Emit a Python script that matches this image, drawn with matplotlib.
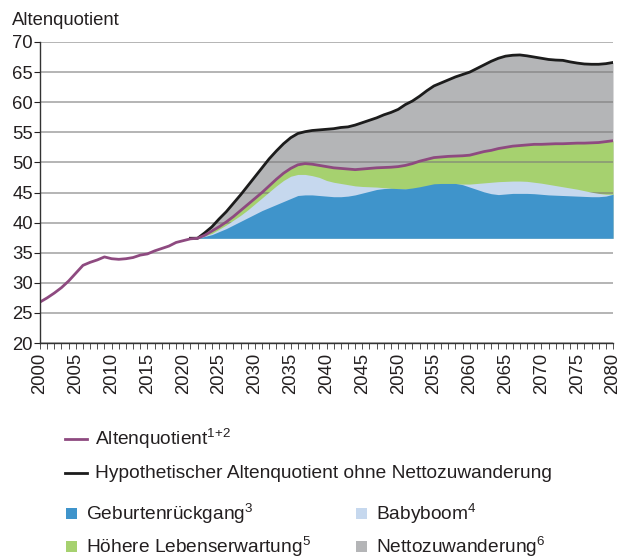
import numpy as np
import matplotlib
matplotlib.use("Agg")
import matplotlib.pyplot as plt
from matplotlib.lines import Line2D
from matplotlib.patches import Rectangle
from matplotlib.ticker import MultipleLocator

plt.rcParams['font.family'] = ['Liberation Sans', 'DejaVu Sans']
plt.rcParams['mathtext.default'] = 'regular'

# Altenquotient (purple), 2000-2080
years = np.arange(2000, 2081)
altenquotient = [
    26.8, 27.5, 28.3, 29.2, 30.3, 31.6, 32.9, 33.4, 33.8, 34.3,   # 2000-2009
    34.0, 33.9, 34.0, 34.2, 34.6, 34.8, 35.3, 35.7, 36.1, 36.7,   # 2010-2019
    37.0, 37.3, 37.4, 37.9, 38.6, 39.3, 40.1, 41.0, 42.0, 43.0,   # 2020-2029
    44.0, 45.0, 46.1, 47.2, 48.2, 49.0, 49.6, 49.8, 49.7, 49.5,   # 2030-2039
    49.3, 49.1, 49.0, 48.9, 48.8, 48.9, 49.0, 49.1, 49.15, 49.2,  # 2040-2049
    49.3, 49.5, 49.8, 50.2, 50.5, 50.8, 50.9, 51.0, 51.05, 51.1,  # 2050-2059
    51.2, 51.5, 51.8, 52.0, 52.3, 52.5, 52.7, 52.8, 52.9, 53.0,   # 2060-2069
    53.0, 53.05, 53.1, 53.1, 53.15, 53.2, 53.2, 53.25, 53.3, 53.45,  # 2070-2079
    53.6]

# hypothetical without net migration (black), 2021-2080
years_hyp = np.arange(2021, 2081)
ohne_zuwanderung = [
    37.4, 37.4, 38.3, 39.3, 40.6, 41.8, 43.2, 44.6, 46.1, 47.6,   # 2021-2030
    49.1, 50.6, 51.9, 53.1, 54.1, 54.8, 55.1, 55.3, 55.4, 55.5,   # 2031-2040
    55.6, 55.8, 55.9, 56.2, 56.6, 57.0, 57.4, 57.9, 58.3, 58.8,   # 2041-2050
    59.6, 60.2, 61.0, 61.9, 62.7, 63.2, 63.7, 64.2, 64.6, 65.0,   # 2051-2060
    65.6, 66.2, 66.8, 67.3, 67.65, 67.8, 67.85, 67.7, 67.5, 67.3,  # 2061-2070
    67.1, 67.0, 66.95, 66.7, 66.5, 66.35, 66.3, 66.3, 66.4, 66.6]  # 2071-2080

# upper edges of the component areas, 2022-2080
years_proj = np.arange(2022, 2081)
babyboom_top = [
    37.4, 37.8, 38.2, 38.9, 39.6, 40.4, 41.2, 42.1, 43.1,         # 2022-2030
    44.1, 45.1, 46.1, 47.0, 47.7, 48.0, 48.0, 47.8, 47.5, 47.0,   # 2031-2040
    46.7, 46.5, 46.3, 46.1, 46.0, 45.95, 45.9, 45.8, 45.7, 45.6,  # 2041-2050
    45.55, 45.6, 45.8, 46.0, 46.2, 46.3, 46.4, 46.4, 46.4, 46.4,  # 2051-2060
    46.5, 46.6, 46.7, 46.8, 46.85, 46.9, 46.9, 46.85, 46.7, 46.55,  # 2061-2070
    46.35, 46.15, 45.95, 45.75, 45.55, 45.3, 45.05, 44.85, 44.7, 44.7]  # 2071-2080
geburten_top = [
    37.4, 37.7, 38.0, 38.5, 39.0, 39.6, 40.2, 40.8, 41.4,         # 2022-2030
    42.0, 42.5, 43.0, 43.5, 44.0, 44.5, 44.6, 44.6, 44.5, 44.4,   # 2031-2040
    44.3, 44.3, 44.4, 44.6, 44.9, 45.2, 45.5, 45.65, 45.7, 45.65,  # 2041-2050
    45.6, 45.75, 45.95, 46.2, 46.45, 46.5, 46.5, 46.5, 46.3, 45.9,  # 2051-2060
    45.5, 45.1, 44.8, 44.65, 44.75, 44.85, 44.85, 44.85, 44.8, 44.7,  # 2061-2070
    44.6, 44.55, 44.5, 44.45, 44.4, 44.35, 44.3, 44.3, 44.4, 44.7]  # 2071-2080

c_blue = '#3f94cb'
c_lightblue = '#c6d8ee'
c_green = '#a6d16f'
c_gray = '#b4b5b7'
c_purple = '#8e4a80'
c_black = '#1c1c1c'
txt = '#231f20'
fs = 13.3
fs_leg = 13.8

fig = plt.figure(figsize=(6.19, 5.6), dpi=100)
ax = fig.add_axes([40 / 619, 1 - 343 / 560, 573 / 619, 301 / 560])

aq = np.array(altenquotient)
proj = years >= 2022
base = aq[proj][0]
hyp = np.array(ohne_zuwanderung)[years_hyp >= 2022]

ax.fill_between(years_proj, base, hyp, color=c_gray, lw=0, zorder=1)
ax.fill_between(years_proj, base, aq[proj], color=c_green, lw=0, zorder=2)
ax.fill_between(years_proj, base, babyboom_top, color=c_lightblue, lw=0, zorder=3)
ax.fill_between(years_proj, base, geburten_top, color=c_blue, lw=0, zorder=4)

ax.plot(years_hyp, ohne_zuwanderung, color=c_black, lw=2.0, zorder=7)
ax.plot(years, altenquotient, color=c_purple, lw=2.0, zorder=8)

ax.set_xlim(2000, 2080)
ax.set_ylim(20, 70)
ax.yaxis.set_major_locator(MultipleLocator(5))
ax.xaxis.set_major_locator(MultipleLocator(5))
ax.xaxis.set_minor_locator(MultipleLocator(1))
ax.grid(axis='y', color='#7a7a7a', alpha=0.6, lw=1.3, zorder=5)
ax.set_axisbelow(False)
for s in ['top', 'right']:
    ax.spines[s].set_visible(False)
for s in ['left', 'bottom']:
    ax.spines[s].set_color('#333333')
    ax.spines[s].set_linewidth(1.0)
    ax.spines[s].set_zorder(9)

ax.tick_params(axis='y', length=4, width=0.8, pad=1, labelsize=fs, colors=txt)
ax.tick_params(axis='x', which='both', length=4, width=0.6, color='#333333')
ax.tick_params(axis='x', which='major', pad=3, labelsize=fs, labelcolor=txt, labelrotation=90)

fig.text(12 / 619, 1 - 25 / 560, 'Altenquotient', fontsize=fs, color=txt, va='baseline')

# legend below the chart
def fy(py):
    return 1 - py / 560

fig.add_artist(Line2D([65 / 619, 87 / 619], [fy(439)] * 2, color=c_purple, lw=2.0))
fig.text(95 / 619, fy(439), 'Altenquotient$^{1{+}2}$', fontsize=fs_leg, color=txt, va='center')
fig.add_artist(Line2D([65 / 619, 87 / 619], [fy(473)] * 2, color=c_black, lw=2.0))
fig.text(95 / 619, fy(473), 'Hypothetischer Altenquotient ohne Nettozuwanderung',
         fontsize=fs_leg, color=txt, va='center')

boxes = [(66, 514, c_blue, 'Geburtenrückgang$^{3}$'),
         (356, 514, c_lightblue, 'Babyboom$^{4}$'),
         (66, 547, c_green, 'Höhere Lebenserwartung$^{5}$'),
         (356, 547, c_gray, 'Nettozuwanderung$^{6}$')]
for px, py, col, lab in boxes:
    fig.add_artist(Rectangle((px / 619, fy(py + 5)), 11 / 619, 11 / 560, color=col, lw=0))
    fig.text((px + 20) / 619, fy(py), lab, fontsize=fs_leg, color=txt, va='center')

fig.savefig('out.png', dpi=100)
